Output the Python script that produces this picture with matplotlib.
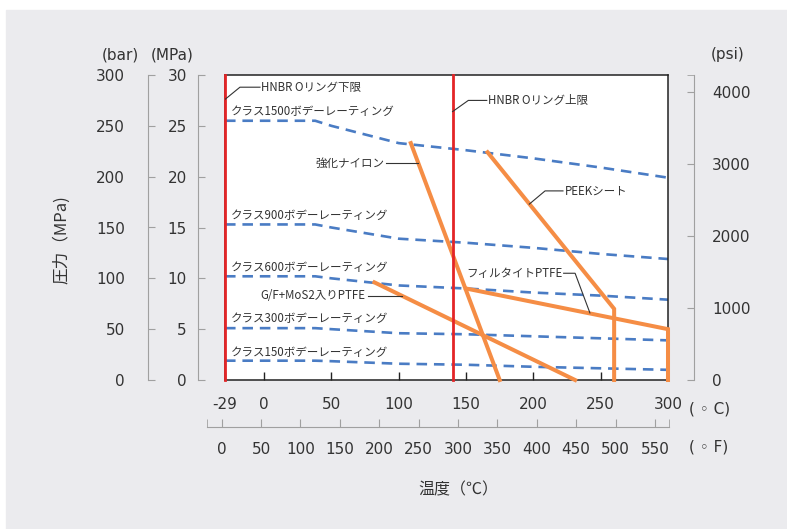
import matplotlib.pyplot as plt
from matplotlib.patches import Rectangle

plt.rcParams['font.family'] = ['DejaVu Sans', 'Noto Sans CJK JP']
JP = ['Noto Sans CJK JP', 'DejaVu Sans']

# body ratings (bar) per class
temps_c = [-29, 38, 50, 100, 150, 200, 250, 300]
class1500 = [255, 255, 250, 233, 226, 218, 209, 199]
class900 = [153, 153, 150, 139, 135, 130, 124, 119]
class600 = [102, 102, 100, 93, 90, 86, 83, 79]
class300 = [51, 51, 50, 46, 45, 43, 41, 39]
class150 = [19, 19, 18.5, 16, 15, 13, 11.5, 10]
class_names = ['クラス1500ボデーレーティング', 'クラス900ボデーレーティング',
               'クラス600ボデーレーティング', 'クラス300ボデーレーティング',
               'クラス150ボデーレーティング']

# seat material limits (degC, MPa)
nylon_t, nylon_p = [109, 175], [23.3, 0]
peek_t, peek_p = [166, 260, 260], [22.4, 7.0, 0]
ptfe_t, ptfe_p = [150, 300, 300], [9.0, 5.0, 0]
gf_t, gf_p = [82, 231], [9.6, 0]

hnbr_limits = [-29, 140]

c_ticks = [-29, 0, 50, 100, 150, 200, 250, 300]
f_ticks = [0, 50, 100, 150, 200, 250, 300, 350, 400, 450, 500, 550]
bar_ticks = [0, 50, 100, 150, 200, 250, 300]
mpa_ticks = [0, 5, 10, 15, 20, 25, 30]
psi_ticks = [0, 1000, 2000, 3000, 4000]

W, H = 787, 529
BLUE = '#4a7cc4'
ORANGE = '#f58d45'
RED = '#e42527'
GRAY = '#a0a0a0'
TXT = '#333333'


def rect(x0, y0, x1, y1):
    return [x0 / W, 1 - y1 / H, (x1 - x0) / W, (y1 - y0) / H]


fig = plt.figure(figsize=(W / 100, H / 100), dpi=100, facecolor='white')
fig.patches.append(Rectangle((6 / W, 0), 1, 1 - 10 / H, transform=fig.transFigure,
                             color='#ebebee', zorder=-10))

ax = fig.add_axes(rect(225, 75, 668, 380))
ax.set_facecolor('white')
ax.set_xlim(-29, 300)
ax.set_ylim(0, 30)
for s in ax.spines.values():
    s.set_color('#222222')
    s.set_linewidth(1.1)
ax.set_yticks([])
ax.set_xticks(c_ticks)
ax.set_xticklabels([str(t) for t in c_ticks])
ax.tick_params(axis='x', direction='in', length=6, width=1, color='#222222',
               pad=12, labelsize=11, labelcolor=TXT)

for vals in [class1500, class900, class600, class300, class150]:
    ax.plot(temps_c, [v / 10 for v in vals], color=BLUE, lw=1.9,
            dashes=(4, 2.6), zorder=2)

for t, p in [(nylon_t, nylon_p), (peek_t, peek_p), (ptfe_t, ptfe_p), (gf_t, gf_p)]:
    ax.plot(t, p, color=ORANGE, lw=2.9, zorder=3, solid_joinstyle='miter',
            clip_on=False)

for x in hnbr_limits:
    ax.axvline(x, color=RED, lw=2.0, zorder=4, clip_on=False)

# labels and leader lines
fs = 8.3
lc = '#333333'
for name, y in zip(class_names, [26.4, 16.2, 11.1, 6.1, 2.7]):
    ax.text(-25.0, y, name, fontsize=fs, family=JP, va='center', color=TXT)

ax.plot([-29, -17.9, -3.0], [27.6, 28.8, 28.8], color=lc, lw=0.8, zorder=5)
ax.text(-2.3, 28.8, 'HNBR Oリング下限', fontsize=fs, family=JP, va='center', color=TXT)
ax.plot([140, 151.7, 165.4], [26.4, 27.5, 27.5], color=lc, lw=0.8, zorder=5)
ax.text(166.3, 27.5, 'HNBR Oリング上限', fontsize=fs, family=JP, va='center', color=TXT)
ax.plot([90.5, 114.5], [21.3, 21.3], color=lc, lw=0.8, zorder=5)
ax.text(89.8, 21.3, '強化ナイロン', fontsize=fs, family=JP, va='center', ha='right', color=TXT)
ax.plot([197.0, 208.7, 222.0], [17.3, 18.6, 18.6], color=lc, lw=0.8, zorder=5)
ax.text(223.5, 18.6, 'PEEKシート', fontsize=fs, family=JP, va='center', color=TXT)
ax.plot([222.5, 231, 242], [10.5, 10.5, 6.6], color=lc, lw=0.8, zorder=5)
ax.text(221.8, 10.5, 'フィルタイトPTFE', fontsize=fs, family=JP, va='center', ha='right', color=TXT)
ax.plot([77.5, 102.3], [8.3, 8.3], color=lc, lw=0.8, zorder=5)
ax.text(75.0, 8.3, 'G/F+MoS2入りPTFE', fontsize=fs, family=JP, va='center', ha='right', color=TXT)


def side_scale(x_px, lim, ticks, side, pad, top_tick=False):
    if side == 'left':
        a = fig.add_axes(rect(x_px, 75, x_px + 1, 380))
    else:
        a = fig.add_axes(rect(x_px - 1, 75, x_px, 380))
    a.set_facecolor('none')
    for k, s in a.spines.items():
        s.set_visible(k == side)
    a.spines[side].set_color(GRAY)
    a.set_xticks([])
    a.set_ylim(lim)
    a.set_yticks(ticks)
    if top_tick:
        a.set_yticks([lim[1]], minor=True)
    a.yaxis.set_ticks_position(side)
    a.yaxis.set_label_position(side)
    a.tick_params(axis='y', which='both', direction='in', length=5, color=GRAY,
                  labelsize=11, pad=pad, labelcolor=TXT)
    return a


side_scale(148, (0, 300), bar_ticks, 'left', 16.5)
side_scale(198, (0, 30), mpa_ticks, 'left', 8.0)
side_scale(694, (0, 4236), psi_ticks, 'right', 12.9, top_tick=True)

# Fahrenheit scale
af = fig.add_axes(rect(207.3, 425.7, 669.3, 426.7))
af.set_facecolor('none')
for k, s in af.spines.items():
    s.set_visible(k == 'bottom')
af.spines['bottom'].set_color(GRAY)
af.set_yticks([])
af.set_xlim(-18.3, 568.3)
af.set_xticks(f_ticks)
af.set_xticks([-18.3, 568.3], minor=True)
af.tick_params(axis='x', which='both', direction='in', length=5.5, color=GRAY,
               labelsize=11, pad=11, labelcolor=TXT)

fig.text(120 / W, 1 - 55 / H, '(bar)', ha='center', va='center', fontsize=11, color=TXT)
fig.text(172 / W, 1 - 55 / H, '(MPa)', ha='center', va='center', fontsize=11, color=TXT)
fig.text(728 / W, 1 - 55 / H, '(psi)', ha='center', va='center', fontsize=11, color=TXT)
fig.text(62 / W, 1 - 240 / H, '圧力（MPa)', rotation=90, ha='center', va='center',
         fontsize=12, color=TXT, family=JP)
fig.text(689 / W, 1 - 409 / H, '( ◦ C)', ha='left', va='center', fontsize=11, color=TXT)
fig.text(689 / W, 1 - 447 / H, '( ◦ F)', ha='left', va='center', fontsize=11, color=TXT)
fig.text(458 / W, 1 - 490 / H, '温度（℃）', ha='center', va='center', fontsize=11.5,
         color=TXT, family=JP)

fig.savefig('out.png', dpi=100)
